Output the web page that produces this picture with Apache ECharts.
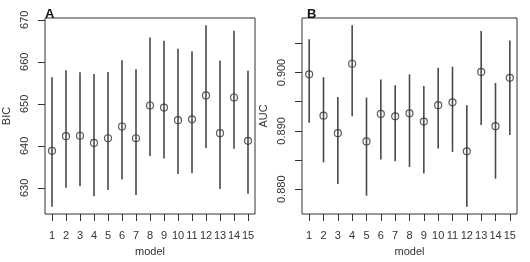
<!DOCTYPE html>
<html>
<head>
<meta charset="utf-8">
<script src="https://cdn.jsdelivr.net/npm/echarts@6/dist/echarts.min.js"></script>
<style>
  html, body { margin: 0; padding: 0; background: #fff; }
  #chart { width: 530px; height: 262px; }
</style>
</head>
<body>
<div id="chart"></div>
<script>
const models = ['1', '2', '3', '4', '5', '6', '7', '8', '9', '10', '11', '12', '13', '14', '15'];

// panel A: BIC estimate with lower / upper bounds
const bicMid = [638.8, 642.3, 642.4, 640.7, 641.8, 644.6, 641.8, 649.6, 649.1, 646.1, 646.3, 652.0, 643.0, 651.5, 641.2];
const bicLow = [625.5, 630.0, 630.4, 628.0, 629.5, 632.0, 628.3, 637.6, 637.0, 633.3, 633.5, 639.5, 629.7, 639.3, 628.6];
const bicHigh = [656.3, 658.0, 657.5, 657.1, 657.6, 660.4, 658.2, 665.8, 665.0, 663.1, 662.5, 668.7, 660.3, 667.4, 657.9];

// panel B: AUC estimate with lower / upper bounds
const aucMid = [0.8997, 0.8926, 0.8896, 0.9015, 0.8882, 0.8929, 0.8925, 0.8930, 0.8916, 0.8944, 0.8949, 0.8865, 0.9001, 0.8908, 0.8991];
const aucLow = [0.8914, 0.8846, 0.8809, 0.8925, 0.8789, 0.8851, 0.8848, 0.8838, 0.8827, 0.8870, 0.8864, 0.8770, 0.8910, 0.8818, 0.8893];
const aucHigh = [0.9057, 0.8992, 0.8958, 0.9081, 0.8957, 0.8988, 0.8978, 0.8997, 0.8977, 0.9008, 0.9010, 0.8944, 0.9071, 0.8982, 0.9055];

const bicTicks = [630, 640, 650, 660, 670];
const aucTicks = [0.875, 0.880, 0.885, 0.890, 0.895, 0.900, 0.905];
const aucLabels = [0.880, 0.890, 0.900];

const font = 'Liberation Sans, Arial, sans-serif';
const textColor = '#333';

// R-style limits: data range padded by 4% each side
function rLimits(low, high) {
  const lo = Math.min(...low);
  const hi = Math.max(...high);
  const pad = (hi - lo) * 0.04;
  return [lo - pad, hi + pad];
}

const bicLim = rLimits(bicLow, bicHigh);
const aucLim = rLimits(aucLow, aucHigh);

function xAxisFor(idx) {
  return {
    type: 'category',
    gridIndex: idx,
    data: models,
    name: 'model',
    nameLocation: 'middle',
    nameGap: 32,
    nameTextStyle: { color: textColor, fontFamily: font, fontSize: 11 },
    axisLine: { show: false },
    axisTick: { show: true, alignWithLabel: true, length: 7, lineStyle: { color: '#333' } },
    axisLabel: { interval: 0, color: textColor, fontFamily: font, fontSize: 11, margin: 16 },
    splitLine: { show: false }
  };
}

function yAxisFor(idx, name, lim, ticks, labels, fmt) {
  return {
    type: 'value',
    gridIndex: idx,
    min: lim[0],
    max: lim[1],
    name: name,
    nameLocation: 'middle',
    nameGap: 33,
    nameTextStyle: { color: textColor, fontFamily: font, fontSize: 11 },
    axisLine: { show: false },
    axisTick: { show: true, length: 7, customValues: ticks, lineStyle: { color: '#333' } },
    axisLabel: {
      customValues: labels,
      rotate: 90,
      margin: 15,
      color: textColor,
      fontFamily: font,
      fontSize: 11,
      formatter: fmt
    },
    splitLine: { show: false }
  };
}

function errorBars(idx, mid, low, high) {
  return {
    type: 'custom',
    xAxisIndex: idx,
    yAxisIndex: idx,
    data: models.map((m, i) => [i, low[i], high[i]]),
    renderItem: function (params, api) {
      const p0 = api.coord([api.value(0), api.value(1)]);
      const p1 = api.coord([api.value(0), api.value(2)]);
      return {
        type: 'line',
        shape: { x1: p0[0], y1: p0[1], x2: p1[0], y2: p1[1] },
        style: { stroke: '#4a4a4a', lineWidth: 1.6 }
      };
    },
    silent: true
  };
}

function points(idx, mid) {
  return {
    type: 'scatter',
    xAxisIndex: idx,
    yAxisIndex: idx,
    data: mid.map((v, i) => [i, v]),
    symbol: 'circle',
    symbolSize: 7,
    itemStyle: { color: 'transparent', borderColor: '#333', borderWidth: 1.2 },
    silent: true,
    z: 5
  };
}

const chart = echarts.init(document.getElementById('chart'), null, { renderer: 'canvas' });

chart.setOption({
  backgroundColor: '#fff',
  animation: false,
  title: [
    { text: 'A', left: 40, top: 3, textStyle: { fontFamily: font, fontSize: 13, fontWeight: 'bold', color: '#111' } },
    { text: 'B', left: 302, top: 3, textStyle: { fontFamily: font, fontSize: 13, fontWeight: 'bold', color: '#111' } }
  ],
  grid: [
    { left: 40, top: 18, width: 215, height: 201, show: true, borderColor: '#333', borderWidth: 1, backgroundColor: 'transparent' },
    { left: 302, top: 18, width: 215, height: 201, show: true, borderColor: '#333', borderWidth: 1, backgroundColor: 'transparent' }
  ],
  xAxis: [xAxisFor(0), xAxisFor(1)],
  yAxis: [
    yAxisFor(0, 'BIC', bicLim, bicTicks, bicTicks, v => String(Math.round(v))),
    yAxisFor(1, 'AUC', aucLim, aucTicks, aucLabels, v => v.toFixed(3))
  ],
  series: [
    errorBars(0, bicMid, bicLow, bicHigh),
    points(0, bicMid),
    errorBars(1, aucMid, aucLow, aucHigh),
    points(1, aucMid)
  ]
});
</script>
</body>
</html>
